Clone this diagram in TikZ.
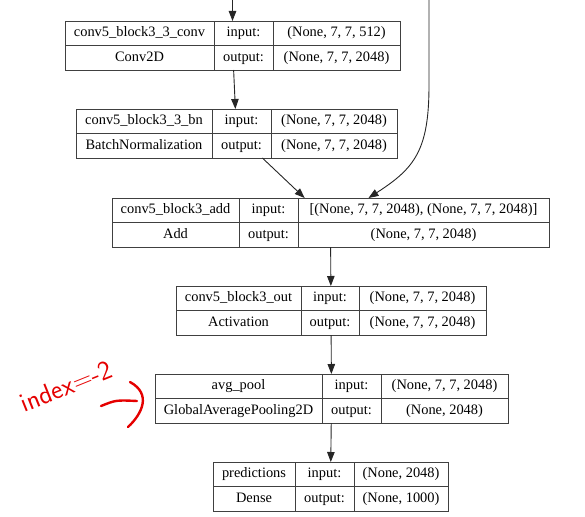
\documentclass[tikz,border=0pt]{standalone}
\usepackage{fontspec}
\setmainfont{Liberation Serif}
\usetikzlibrary{arrows.meta, positioning, fit}
% one keras layer: name, top-left, three column widths, title, class, input shape, output shape
\newcommand{\layerblock}[9]{%
  \node[cell, minimum width=#3, anchor=north west] (#1-t) at (#2) {#6};
  \node[cell, minimum width=#3, below=0pt of #1-t] (#1-k) {#7};
  \node[cell, minimum width=#4, right=0pt of #1-t] (#1-il) {input:};
  \node[cell, minimum width=#4, below=0pt of #1-il] (#1-ol) {output:};
  \node[cell, minimum width=#5, right=0pt of #1-il] (#1-i) {#8};
  \node[cell, minimum width=#5, below=0pt of #1-i] (#1-o) {#9};
  \node[fit=(#1-t)(#1-o), inner sep=0pt, outer sep=0pt] (#1) {};}

\begin{document}
\begin{tikzpicture}[x=1pt, y=1pt,
  cell/.style={draw=black!75, line width=0.8pt, minimum height=24.5pt, inner sep=0pt, outer sep=0pt,
               text height=10pt, text depth=3pt, font=\fontsize{14.4}{16}\selectfont},
  ar/.style={-{Triangle[length=10pt, width=7.5pt]}, line width=0.9pt, black!85},
  note/.style={text=red!90!black, inner sep=0pt, font=\sffamily\fontsize{27}{30}\selectfont},
  hand/.style={red!90!black, line width=2.4pt, line cap=round}]
\useasboundingbox (0,0) rectangle (585,-516);
\layerblock{conv}{65,-21}{149pt}{59pt}{127pt}{conv5\_block3\_3\_conv}{Conv2D}{(None, 7, 7, 512)}{(None, 7, 7, 2048)}
\layerblock{bn}{76,-109}{136pt}{59pt}{126pt}{conv5\_block3\_3\_bn}{BatchNormalization}{(None, 7, 7, 2048)}{(None, 7, 7, 2048)}
\layerblock{add}{112,-198}{127pt}{59pt}{251pt}{conv5\_block3\_add}{Add}{[(None, 7, 7, 2048), (None, 7, 7, 2048)]}{(None, 7, 7, 2048)}
\layerblock{out}{176,-286}{125pt}{58pt}{127pt}{conv5\_block3\_out}{Activation}{(None, 7, 7, 2048)}{(None, 7, 7, 2048)}
\layerblock{pool}{155,-374}{167pt}{59pt}{127pt}{avg\_pool}{GlobalAveragePooling2D}{(None, 7, 7, 2048)}{(None, 2048)}
\layerblock{pred}{213,-462}{82pt}{59pt}{94pt}{predictions}{Dense}{(None, 2048)}{(None, 1000)}
% edges
\coordinate (src) at (232.5,0);
\coordinate (skip) at (429,0);
\coordinate (bend) at (429,-85);
\draw[ar] (src) -- (conv);
\draw[ar] (conv) -- (bn);
\draw[ar] (bn) -- (add);
\draw[ar] (skip) -- (bend) .. controls (429,-150) and (415,-168) .. (add);
\draw[ar] (add) -- (out);
\draw[ar] (out) -- (pool);
\draw[ar] (pool) -- (pred);
% handwritten note
\node[note, rotate=22] (idx) at (66,-386) {index=-2};
\draw[hand] (101,-406) .. controls (116,-400) .. (137,-401);
\draw[hand] (130,-382) .. controls (152,-394) and (142,-414) .. (128,-427);
\end{tikzpicture}
\end{document}
